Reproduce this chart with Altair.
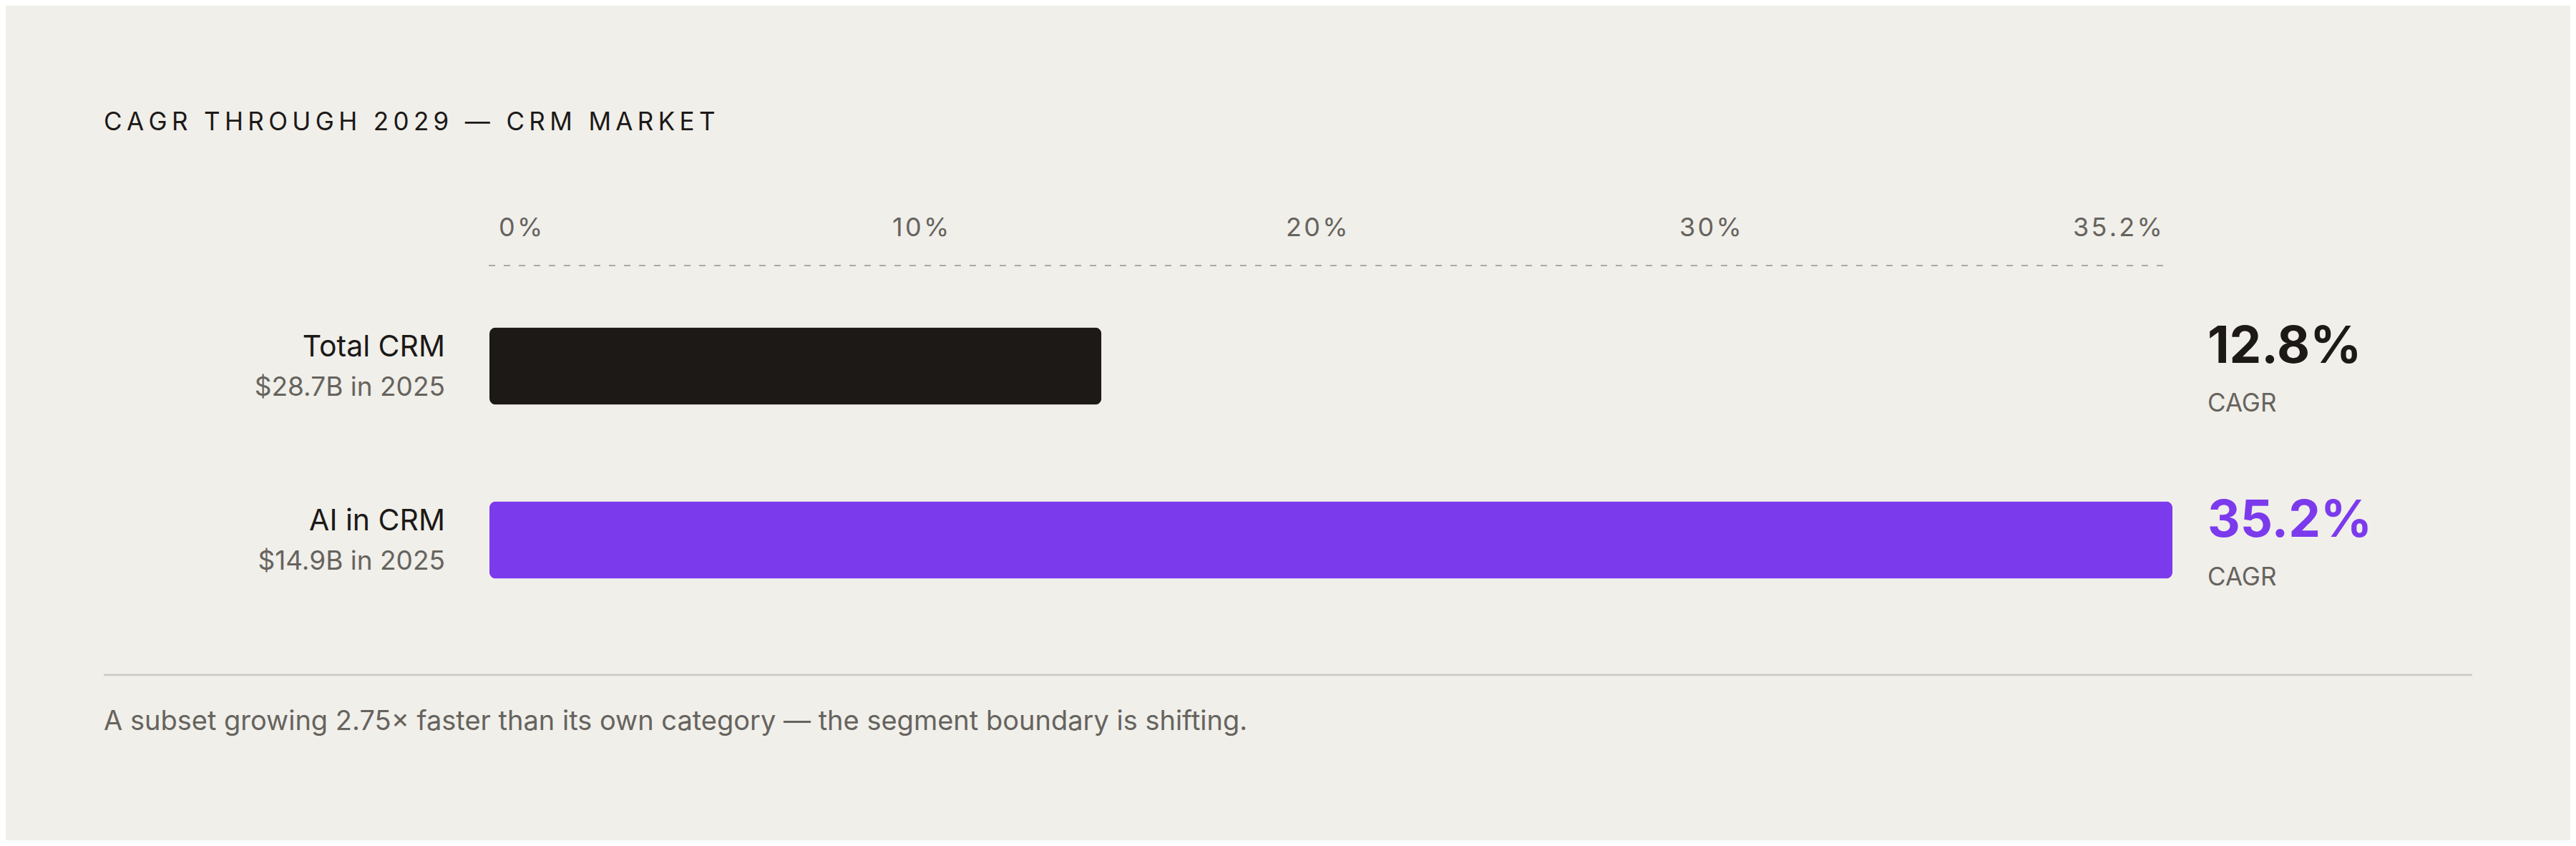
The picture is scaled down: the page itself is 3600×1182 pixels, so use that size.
import altair as alt
import pandas as pd

# ---- data ----
categories = ["Total CRM", "AI in CRM"]
market_2025 = ["$28.7B in 2025", "$14.9B in 2025"]
cagr = [12.8, 35.2]
tick_labels = ["0%", "10%", "20%", "30%", "35.2%"]
title_text = "CAGR THROUGH 2029 — CRM MARKET"
footnote_text = "A subset growing 2.75× faster than its own category — the segment boundary is shifting."
unit_text = "CAGR"

# ---- style ----
BG = "#F0EFEA"
INK = "#1C1917"
PURPLE = "#7C3AED"
GREY = "#67635E"
RULE = "#CAC6C0"
DASH = "#ADA8A2"
FONT = "Inter"


def track(s, sp="\u200a"):
    return sp.join(s)


df = pd.DataFrame({"category": categories, "sub": market_2025, "cagr": cagr})
df["value_label"] = [f"{v:.1f}%" for v in cagr]
df["unit"] = unit_text
ticks = pd.DataFrame({"label": [track(t) for t in tick_labels],
                      "idx": list(range(len(tick_labels)))})
one = pd.DataFrame({"title": [track(title_text, "\u200a\u200a")], "note": [footnote_text]})

W = 2352
H = 486

y_scale = alt.Scale(domain=categories, paddingInner=0.5556, paddingOuter=0.2778)
color_scale = alt.Scale(domain=categories, range=[INK, PURPLE])
x_scale = alt.Scale(domain=[0, max(cagr)], nice=False, zero=True)
Y = alt.Y("category:N", scale=y_scale, axis=None, sort=categories)

base = alt.Chart(df)

bars = base.mark_bar(cornerRadius=9).encode(
    x=alt.X("cagr:Q", scale=x_scale, axis=None),
    y=Y,
    color=alt.Color("category:N", scale=color_scale, legend=None),
)

names = base.mark_text(align="right", baseline="alphabetic", dy=-14,
                       font=FONT, fontSize=41, color=INK).encode(
    x=alt.value(-62), y=Y, text="category:N")

subs = base.mark_text(align="right", baseline="alphabetic", dy=41,
                      font=FONT, fontSize=37, color=GREY).encode(
    x=alt.value(-62), y=Y, text="sub:N")

values = base.mark_text(align="left", baseline="alphabetic", dy=-5,
                        font=FONT, fontSize=71, fontWeight=700).encode(
    x=alt.value(2401), y=Y, text="value_label:N",
    color=alt.Color("category:N", scale=color_scale, legend=None))

units = base.mark_text(align="left", baseline="alphabetic", dy=63,
                       font=FONT, fontSize=35, color=GREY).encode(
    x=alt.value(2401), y=Y, text="unit:N")

tick_text = alt.Chart(ticks).mark_text(align="left", baseline="alphabetic",
                                       font=FONT, fontSize=36, color=GREY).encode(
    x=alt.X("idx:Q", scale=alt.Scale(domain=[0, len(tick_labels) - 1], range=[13, 2213]), axis=None),
    y=alt.value(-60),
    text="label:N")

dash_rule = alt.Chart(one).mark_rule(strokeDash=[9, 12], color=DASH, strokeWidth=2).encode(
    x=alt.value(-1), x2=alt.value(2342), y=alt.value(-19))

title = alt.Chart(one).mark_text(align="left", baseline="alphabetic",
                                 font=FONT, fontSize=35, color=INK).encode(
    x=alt.value(-539), y=alt.value(-208), text="title:N")

sep = alt.Chart(one).mark_rule(color=RULE, strokeWidth=2.5).encode(
    x=alt.value(-539), x2=alt.value(2771), y=alt.value(553))

note = alt.Chart(one).mark_text(align="left", baseline="alphabetic",
                                font=FONT, fontSize=38, color=GREY).encode(
    x=alt.value(-539), y=alt.value(630), text="note:N")

chart = alt.layer(
    dash_rule, bars, names, subs, values, units, tick_text, title, sep, note
).resolve_scale(x="independent").properties(
    width=W, height=H,
    autosize=alt.AutoSizeParams(type="none"),
    padding={"left": 676, "top": 382, "right": 556, "bottom": 298},
    background=BG,
).configure_view(stroke=None)

chart.save("out.html", embed_options={"renderer": "svg", "actions": False})
